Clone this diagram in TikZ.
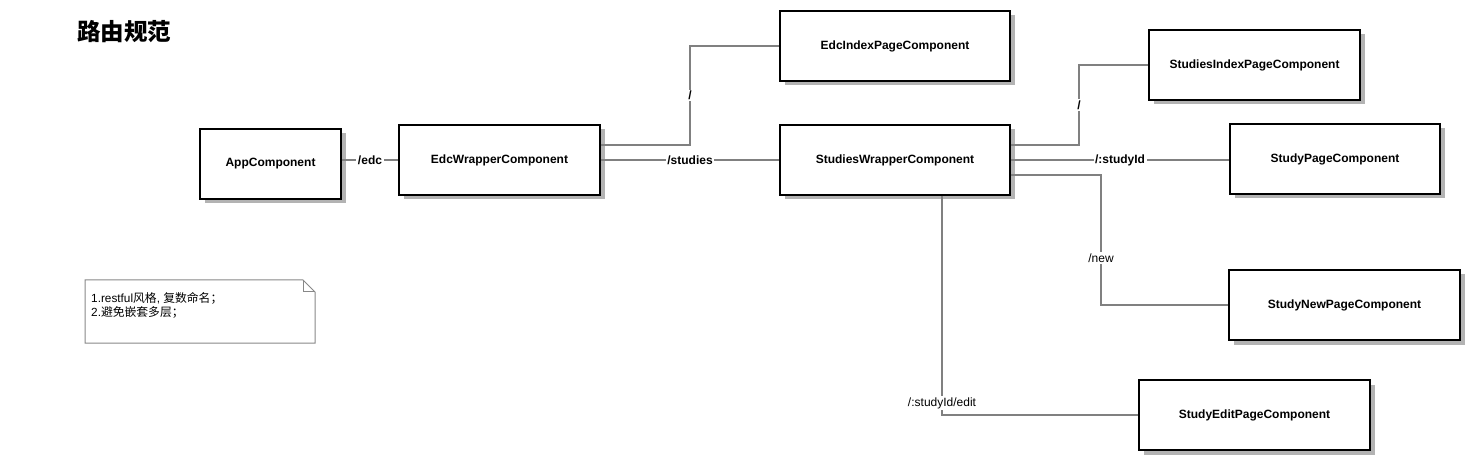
\documentclass[tikz,border=0pt]{standalone}
\usepackage{fontspec}
\setmainfont{Liberation Sans}
\newfontfamily\cjk{Noto Sans CJK SC}
\usetikzlibrary{shadows}
\definecolor{edgegray}{HTML}{808080}
\definecolor{shadowgray}{HTML}{B3B3B3}
\definecolor{notegray}{HTML}{888888}
\begin{document}
\begin{tikzpicture}[x=1pt,y=-1pt,
  comp/.style={draw=black, line width=1.6pt, fill=white, inner sep=0pt,
    font=\fontsize{12}{14}\selectfont\bfseries,
    drop shadow={shadow xshift=4.5pt, shadow yshift=-4.5pt, fill=shadowgray, opacity=1}},
  wire/.style={draw=edgegray, line width=1.4pt},
  lbl/.style={fill=white, inner sep=1.5pt, text=black, font=\fontsize{12}{14}\selectfont\bfseries},
  lbln/.style={fill=white, inner sep=1.5pt, text=black, font=\fontsize{12}{14}\selectfont},
]
\useasboundingbox (0,0) rectangle (1480,470);

% title
\node[anchor=west, inner sep=0pt, font=\cjk\bfseries\fontsize{23.5}{26}\selectfont] (title) at (77,32) {路由规范};

% components
\node[comp, minimum width=141pt, minimum height=70pt] (app)  at (270.5,164) {AppComponent};
\node[comp, minimum width=201pt, minimum height=70pt] (edcw) at (499.5,160) {EdcWrapperComponent};
\node[comp, minimum width=230pt, minimum height=70pt] (edci) at (895,46)    {EdcIndexPageComponent};
\node[comp, minimum width=230pt, minimum height=70pt] (sw)   at (895,160)   {StudiesWrapperComponent};
\node[comp, minimum width=211pt, minimum height=70pt] (sipc) at (1254.5,65) {StudiesIndexPageComponent};
\node[comp, minimum width=210pt, minimum height=70pt] (spc)  at (1335,159)  {StudyPageComponent};
\node[comp, minimum width=231pt, minimum height=70pt] (snpc) at (1344.5,305) {StudyNewPageComponent};
\node[comp, minimum width=231pt, minimum height=70pt] (sepc) at (1254.5,415) {StudyEditPageComponent};

% connectors
\draw[wire] (app.east |- edcw.west) -- node[lbl]{/edc} (edcw.west);
\draw[wire] ([yshift=15pt]edcw.east) -- (690,145) |- node[lbl, pos=0.25]{/} (edci.west);
\draw[wire] (edcw.east) -- node[lbl]{/studies} (sw.west);
\draw[wire] ([yshift=15pt]sw.east) -- (1079,145) |- node[lbl, pos=0.25]{/} (sipc.west);
\draw[wire] (sw.east) -- node[lbl, pos=0.5]{/:studyId} (spc.west |- sw.east);
\draw[wire] ([yshift=-15pt]sw.east) -- (1101,175) -- node[lbln, pos=0.64]{/new} (1101,305) -- (snpc.west);
\draw[wire] ([xshift=47pt]sw.south) -- node[lbln, pos=0.945]{/:studyId/edit} (942,415) -- (sepc.west);

% note
\draw[notegray, line width=1pt, fill=white] (85,280) -- (303,280) -- (315,292) -- (315,343) -- (85,343) -- cycle;
\draw[notegray, line width=1pt] (303,280) -- (303,292) -- (315,292);
\node[anchor=west, align=left, inner sep=0pt, font=\fontsize{11.8}{14}\selectfont] (note) at (91,305)
  {1.restful{\cjk 风格}, {\cjk 复数命名；}\\2.{\cjk 避免嵌套多层；}};
\end{tikzpicture}
\end{document}
